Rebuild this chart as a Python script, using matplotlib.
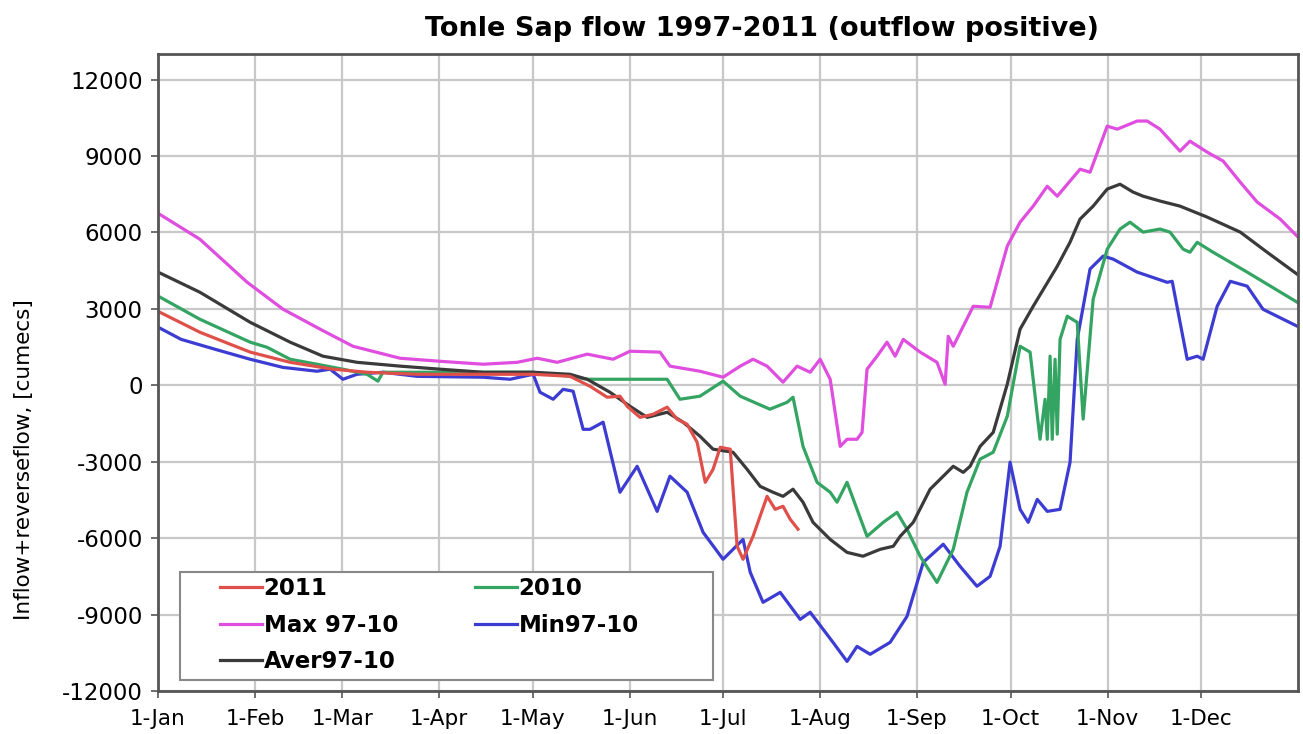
"""Tonle Sap daily flow by day of year, 1997-2011 (outflow positive)."""

import matplotlib
matplotlib.use('Agg')
import matplotlib.pyplot as plt
from matplotlib.patches import Rectangle

plt.rcParams['font.family'] = ['DejaVu Sans']
plt.rcParams['axes.unicode_minus'] = False

MONTH_DAYS = [1, 32, 60, 91, 121, 152, 182, 213, 244, 274, 305, 335]
MONTH_LABELS = ['1-Jan', '1-Feb', '1-Mar', '1-Apr', '1-May', '1-Jun',
                '1-Jul', '1-Aug', '1-Sep', '1-Oct', '1-Nov', '1-Dec']

# day of year / flow in cumecs
days_2011 = [1, 14.4, 30.5, 43.3, 57, 67.9, 83.9, 105.1, 121.1, 132.9, 139.3,
             144.8, 148.9, 151.2, 155.3, 159.5, 164, 167.2, 170.4, 173.6,
             176.2, 178.7, 181, 184.2, 186.4, 188.3, 191.5, 196, 198.6,
             201.1, 203.4, 205.9]
flow_2011 = [2900, 2080, 1300, 900, 630, 510, 430, 430, 430, 350, -40,
             -470, -430, -825, -1260, -1140, -860, -1335, -1530, -2240,
             -3810, -3300, -2435, -2510, -6320, -6830, -5930, -4360, -4870,
             -4750, -5260, -5650]

days_2010 = [1, 14.4, 30.5, 35.9, 43.3, 51.9, 60.2, 67.9, 71.4, 73, 83.9,
             105.1, 121.1, 132.9, 138.4, 148.9, 164, 168.1, 174.5, 181.9,
             187.4, 196.9, 202.4, 204.3, 207.5, 212, 216.2, 218.4, 221.6,
             228, 233.2, 237.6, 240.8, 245, 250.4, 255.6, 260, 264.2, 268.4,
             272.9, 277, 280.2, 283.4, 285, 285.7, 286.6, 287.3, 288.2,
             288.9, 289.8, 292.1, 295.3, 297.2, 300.4, 304.9, 309, 312.2,
             316.4, 321.8, 325, 329.2, 331.4, 333.7, 338.8, 349.7, 365.7]
flow_2010 = [3500, 2590, 1690, 1490, 1020, 825, 630, 430, 160, 510, 510,
             510, 510, 350, 235, 235, 235, -550, -430, 160,
             -430, -940, -670, -470, -2400, -3810, -4200, -4590, -3810,
             -5930, -5380, -4990, -5650, -6710, -7740, -6440, -4200, -2900,
             -2630, -1220, 1530, 1300, -2120, -550, -2120, 1140, -2120, 1020,
             -1920, 1800, 2710, 2470, -1330, 3380, 5340, 6130, 6400,
             6010, 6130, 6010, 5340, 5220, 5610, 5220, 4440, 3260]

days_max = [1, 14.4, 29.5, 41, 52.9, 63.4, 78.5, 91.3, 105.1, 116, 122.4,
            128.8, 138.4, 146.7, 152.1, 161.7, 164.9, 174.5, 181.9, 187.4,
            191.5, 196, 201.1, 205.6, 209.8, 213, 216.2, 219.4, 221.6,
            224.8, 226.4, 228, 231.2, 234.4, 237, 239.6, 245, 250.4, 253,
            254, 255.6, 262, 267.4, 272.9, 277, 281.2, 285.7, 288.9, 296.2,
            299.4, 304.9, 308.1, 314.5, 317.7, 321.8, 328.2, 331.4, 336.9,
            342, 347.5, 352.9, 360.3, 365.7]
flow_max = [6750, 5730, 4045, 2985, 2200, 1530, 1060, 940, 825, 900, 1060,
            900, 1220, 1020, 1335, 1300, 750, 550, 315, 750,
            1020, 750, 120, 750, 510, 1020, 235, -2400, -2120,
            -2120, -1850, 630, 1140, 1690, 1140, 1800, 1300, 900, 40,
            1920, 1530, 3100, 3060, 5460, 6400, 7030, 7810, 7420, 8480,
            8360, 10170, 10050, 10370, 10370, 10050, 9190, 9580, 9150,
            8800, 7970, 7190, 6520, 5850]

days_min = [1, 8.4, 19.3, 30.5, 41, 51.9, 56.1, 60.2, 64.7, 73, 83.9, 105.1,
            113.7, 121.1, 123.3, 127.5, 130.7, 133.9, 137.1, 139.3, 143.5,
            148.9, 154.4, 160.8, 164.9, 170.4, 175.5, 181.9, 188.3, 190.6,
            194.7, 200.2, 206.6, 209.8, 217.1, 221.6, 224.8, 229, 235.4,
            240.8, 246, 252.4, 257.8, 263.2, 267.4, 270.6, 273.8, 277,
            279.6, 282.5, 285.7, 289.8, 293, 295.3, 299.4, 303.6, 306.8,
            314.5, 324.1, 325.7, 330.5, 333.7, 335.6, 340.1, 344.3, 349.7,
            354.8, 365.7]
flow_min = [2280, 1800, 1410, 1020, 700, 550, 630, 235, 430, 510, 350, 315,
            235, 430, -275, -550, -160, -235, -1730, -1730, -1450,
            -4200, -3180, -4950, -3570, -4200, -5770, -6830, -6050, -7340,
            -8520, -8130, -9190, -8910, -10090, -10840, -10250, -10560, -10090,
            -9070, -6950, -6240, -7110, -7890, -7500, -6320, -3020, -4870,
            -5380, -4480, -4950, -4870, -3020, 1800, 4560, 5070, 4950,
            4440, 4040, 4080, 1020, 1140, 1020, 3100, 4080, 3890,
            2980, 2320]

days_avg = [1, 14.4, 30.5, 43.3, 53.8, 64.7, 78.5, 91.3, 105.1, 121.1, 132.9,
            138.4, 145.7, 152.1, 157.6, 164, 169.1, 174.5, 178.7, 185.1,
            189.6, 193.8, 197.9, 201.1, 204.3, 207.5, 210.7, 216.2, 221.6,
            226.7, 232.2, 236.4, 238.6, 242.8, 248.2, 252.4, 255.6, 258.8,
            261, 264.2, 268.4, 272.9, 277, 281.2, 288.9, 293, 296.2, 300.4,
            304.9, 309, 313.2, 316.4, 321.8, 328.2, 336.9, 347.5, 356.1,
            365.7]
flow_avg = [4440, 3650, 2470, 1690, 1140, 900, 750, 630, 510, 510, 430,
            235, -275, -825, -1260, -1060, -1450, -2000, -2510, -2630,
            -3300, -3970, -4200, -4360, -4080, -4590, -5380, -6050, -6560,
            -6710, -6440, -6320, -5930, -5380, -4080, -3570, -3180, -3420,
            -3180, -2400, -1850, 40, 2200, 3100, 4670, 5615, 6520, 7030,
            7700, 7890, 7580, 7420, 7230, 7030, 6600, 6010, 5220,
            4360]


def make_plot():
    """Draw the five flow series on a day-of-year axis."""
    fig = plt.figure(figsize=(13.03, 7.34), dpi=100)
    ax = fig.add_axes([0.1213, 0.0586, 0.8749, 0.8678])

    lw = 2.3
    ax.plot(days_max, flow_max, color='#e04ee0', lw=lw, label='Max 97-10')
    ax.plot(days_min, flow_min, color='#3c3cd2', lw=lw, label='Min97-10')
    ax.plot(days_2010, flow_2010, color='#34a462', lw=lw, label='2010')
    ax.plot(days_avg, flow_avg, color='#3a3a3a', lw=lw, label='Aver97-10')
    ax.plot(days_2011, flow_2011, color='#e0504a', lw=lw, label='2011')

    ax.set_xlim(1, 366)
    ax.set_ylim(-12000, 13000)
    ax.set_xticks(MONTH_DAYS)
    ax.set_xticklabels(MONTH_LABELS)
    ax.set_yticks(range(-12000, 12001, 3000))
    ax.tick_params(direction='out', length=5, width=1.2, color='#555555')
    ax.tick_params(axis='x', labelsize=15.5, pad=8)
    ax.tick_params(axis='y', labelsize=16.5, pad=6)
    ax.grid(True, color='#c8c8c8', lw=1.6)
    ax.set_axisbelow(True)
    for spine in ax.spines.values():
        spine.set_color('#555555')
        spine.set_linewidth(2)

    ax.set_ylabel('Inflow+reverseflow, [cumecs]', fontsize=15.5)
    ax.yaxis.set_label_coords(-0.109, 0.363)
    fig.text(0.585, 0.961, 'Tonle Sap flow 1997-2011 (outflow positive)',
             ha='center', va='center', fontsize=19.5, fontweight='bold')

    # legend box drawn separately so the columns can sit where they belong
    ax.add_patch(Rectangle((0.0193, 0.0173), 0.4675, 0.1695,
                           transform=ax.transAxes, facecolor='white',
                           edgecolor='#888888', lw=1.5, zorder=4))
    handles, labels = ax.get_legend_handles_labels()
    order = ['2011', 'Max 97-10', 'Aver97-10', '2010', 'Min97-10']
    lookup = dict(zip(labels, handles))
    leg = ax.legend([lookup[k] for k in order], order, ncol=2,
                    loc='upper left', bbox_to_anchor=(0.0544, 0.179),
                    prop={'weight': 'bold', 'size': 16.5},
                    handlelength=1.85, handletextpad=0.05, labelspacing=0.6,
                    columnspacing=3.36, frameon=False, borderpad=0,
                    borderaxespad=0)
    leg.set_zorder(5)

    fig.savefig('out.png', dpi=100)


if __name__ == '__main__':
    make_plot()
